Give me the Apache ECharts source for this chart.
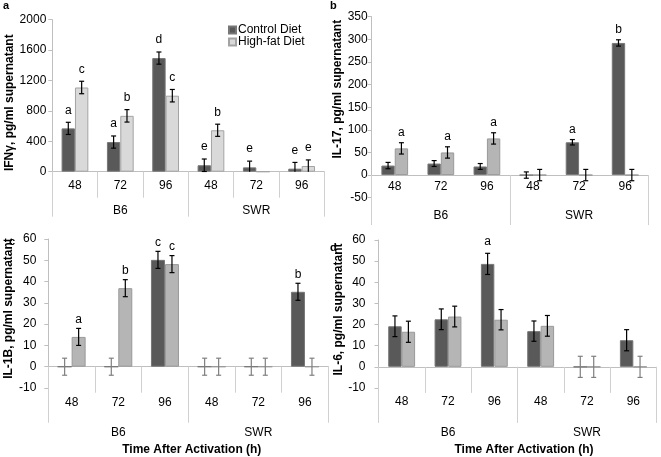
<!DOCTYPE html>
<html><head><meta charset="utf-8">
<script src="https://cdn.jsdelivr.net/npm/echarts@6/dist/echarts.min.js"></script>
<style>html,body{margin:0;padding:0;background:#fff}#c{width:661px;height:457px}</style>
</head><body><div id="c"></div>
<script>
// ---- data ----
const hours = ['48', '72', '96', '48', '72', '96'];
const strains = ['B6', 'SWR'];
const seriesNames = ['Control Diet', 'High-fat Diet'];

const ifnControl = [570, 390, 1495, 85, 57, 40];
const ifnHighFat = [1108, 735, 1000, 545, 0, 75];
const ifnControlErr = [80, 80, 80, 82, 82, 82];
const ifnHighFatErr = [82, 82, 82, 80, null, 80];
const ifnControlSig = ['a', 'a', 'd', 'e', 'e', 'e'];
const ifnHighFatSig = ['c', 'b', 'c', 'b', '', 'e'];

const il17Control = [21, 25.5, 19, 0, 72.5, 292];
const il17HighFat = [59, 50, 81, 0, 0, 0];
const il17ControlErr = [7, 6.5, 6.5, 7, 6, 7];
const il17HighFatErr = [12.5, 12.5, 12.5, 12.5, 12.5, 12.5];
const il17ControlSig = ['', '', '', '', 'a', 'b'];
const il17HighFatSig = ['a', 'a', 'a', '', '', ''];

const il1bControl = [0, 0, 50.2, 0, 0, 35.2];
const il1bHighFat = [14, 36.9, 48.2, 0, 0, 0];
const il1bControlErr = [4, 4, 4, 4, 4, 4];
const il1bHighFatErr = [4, 4, 4, 4, 4, 4];
const il1bControlSig = ['', '', 'c', '', '', 'b'];
const il1bHighFatSig = ['a', 'b', 'c', '', '', ''];

const il6Control = [19.2, 22.5, 48.7, 16.9, 0, 12.6];
const il6HighFat = [16.6, 23.8, 22.3, 19.4, 0, 0];
const il6ControlErr = [4.9, 4.9, 5, 4.8, 5, 5];
const il6HighFatErr = [5, 4.9, 4.8, 4.9, 5, 5];
const il6ControlSig = ['', '', 'a', '', '', ''];
const il6HighFatSig = ['', '', '', '', '', ''];

const yTitles = ['IFNγ, pg/ml supernatant', 'IL-17, pg/ml supernatant', 'IL-1B, pg/ml supernatant', 'IL-6, pg/ml supernatant'];
const xTitle = 'Time After Activation (h)';
const panelKeys = ['a', 'b', 'c', 'd'];

// ---- layout / style ----
const FONT = '"Liberation Sans", Arial, Helvetica, sans-serif';
const panels = [
  {ctrl: ifnControl, hf: ifnHighFat, ctrlErr: ifnControlErr, hfErr: ifnHighFatErr, ctrlSig: ifnControlSig, hfSig: ifnHighFatSig,
   min: 0, max: 2000, interval: 400, grid: [52.3, 19.7, 272, 152], keyPos: [3, 0],
   hfColor: '#d9d9d9', hfBorder: '#a3a3a3', gap: 0.41, catTick: 26, catTickColor: '#d0d0d0', grpTick: 45, catMargin: 8, grpMargin: 33,
   yLabelMargin: 6, nameGap: 35, namePad: [0, 14, 0, 0], zeroColor: '#000', letterGap: 6, xName: '', xNameGap: 0, xNamePad: [0, 0, 0, 0]},
  {ctrl: il17Control, hf: il17HighFat, ctrlErr: il17ControlErr, hfErr: il17HighFatErr, ctrlSig: il17ControlSig, hfSig: il17HighFatSig,
   min: -50, max: 350, interval: 50, grid: [371.7, 16.7, 276.5, 181], keyPos: [330, 0],
   hfColor: '#b5b5b5', hfBorder: '#999999', gap: 0.42, catTick: 0, catTickColor: '#d0d0d0', grpTick: 50, catMargin: 6, grpMargin: 35,
   yLabelMargin: 4, nameGap: 25, namePad: [0, 0, 0, 36], zeroColor: '#000', letterGap: 4, xName: '', xNameGap: 0, xNamePad: [0, 0, 0, 0],
   zeroFromBottom: true},
  {ctrl: il1bControl, hf: il1bHighFat, ctrlErr: il1bControlErr, hfErr: il1bHighFatErr, ctrlSig: il1bControlSig, hfSig: il1bHighFatSig,
   min: -10, max: 60, interval: 10, grid: [48.3, 239, 280, 170.7], keyPos: [9, 236],
   hfColor: '#b5b5b5', hfBorder: '#999999', gap: 0.40, catTick: 26, catTickColor: '#d0d0d0', grpTick: 56, catMargin: 9, grpMargin: 39,
   yLabelMargin: 12, nameGap: 30, namePad: [0, 0, 0, 10], zeroColor: '#7f7f7f', letterGap: 3, xName: xTitle, xNameGap: 56, xNamePad: [0, 0, 0, 7]},
  {ctrl: il6Control, hf: il6HighFat, ctrlErr: il6ControlErr, hfErr: il6HighFatErr, ctrlSig: il6ControlSig, hfSig: il6HighFatSig,
   min: -10, max: 60, interval: 10, grid: [378.5, 240, 278, 170], keyPos: [330, 242],
   hfColor: '#b5b5b5', hfBorder: '#999999', gap: 0.42, catTick: 26, catTickColor: '#d0d0d0', grpTick: 56, catMargin: 8, grpMargin: 39,
   yLabelMargin: 13, nameGap: 29, namePad: [0, 0, 0, 9], zeroColor: '#7f7f7f', letterGap: 6, xName: xTitle, xNameGap: 56, xNamePad: [0, 0, 0, 13]}
];

function errorSeries(k, p, vals, errs, sig, side) {
  const data = vals.map((v, i) => [i, v, errs[i] == null ? NaN : errs[i]]);
  return {
    type: 'custom', xAxisIndex: 2 * k, yAxisIndex: k, z: 10, silent: true,
    data: data, encode: {x: 0, y: 1},
    renderItem: function (params, api) {
      const i = api.value(0), v = api.value(1), e = api.value(2);
      if (e == null || isNaN(e)) return null;
      const band = api.size([1, 0])[0];
      const bw = band * (1 - p.gap) / 2;
      const x = api.coord([i, v])[0] + side * bw / 2;
      const top = api.coord([i, v + e])[1];
      const bottomLimit = api.coord([i, p.min])[1];
      const bot = Math.min(api.coord([i, v - e])[1], bottomLimit);
      const color = v === 0 ? p.zeroColor : '#000';
      const st = {stroke: color, lineWidth: 1.2};
      const children = [
        {type: 'line', shape: {x1: x, y1: top, x2: x, y2: bot}, style: st},
        {type: 'line', shape: {x1: x - 2.5, y1: top, x2: x + 2.5, y2: top}, style: st}
      ];
      if (v - e >= p.min) children.push({type: 'line', shape: {x1: x - 2.5, y1: bot, x2: x + 2.5, y2: bot}, style: st});
      const L = sig[i];
      if (L) children.push({type: 'text', x: x, y: top - p.letterGap,
        style: {text: L, align: 'center', verticalAlign: 'bottom', fill: '#000', fontSize: 12, fontFamily: FONT}});
      return {type: 'group', children: children};
    }
  };
}

const option = {
  animation: false, backgroundColor: '#fff',
  title: [], grid: [], xAxis: [], yAxis: [], series: [],
  legend: {
    data: seriesNames, orient: 'vertical', left: 228, top: 24, padding: 0,
    itemWidth: 7, itemHeight: 7, itemGap: 0, icon: 'rect',
    textStyle: {fontSize: 12, fontFamily: FONT, color: '#000', padding: [0, 0, 0, -3]}
  }
};

panels.forEach((p, k) => {
  const labelStyle = {color: '#000', fontSize: 12, fontFamily: FONT};
  const boldStyle = {color: '#000', fontSize: 12, fontFamily: FONT, fontWeight: 'bold'};
  // distance (px) from the grid bottom (axis min) up to the zero line, for axes placed by offset
  const zeroOffset = p.zeroFromBottom ? -(p.grid[3] * (0 - p.min) / (p.max - p.min)) : 0;
  const onZero = !p.zeroFromBottom;
  option.grid.push({left: p.grid[0], top: p.grid[1], width: p.grid[2], height: p.grid[3]});
  option.title.push({text: panelKeys[k], left: p.keyPos[0], top: p.keyPos[1], padding: 0,
    textStyle: {fontSize: 11, fontWeight: 'bold', fontFamily: FONT, color: '#000'}});
  option.yAxis.push({
    type: 'value', gridIndex: k, min: p.min, max: p.max, interval: p.interval,
    name: yTitles[k], nameLocation: 'middle', nameGap: p.nameGap,
    nameTextStyle: Object.assign({padding: p.namePad}, boldStyle),
    axisLine: {show: true, lineStyle: {color: '#bfbfbf'}},
    axisTick: {show: true, length: 4, lineStyle: {color: '#bfbfbf'}},
    axisLabel: Object.assign({margin: p.yLabelMargin, formatter: (v) => String(v)}, labelStyle),
    splitLine: {show: false}
  });
  option.xAxis.push({
    type: 'category', gridIndex: k, data: hours, position: 'bottom', offset: zeroOffset,
    axisLine: {show: true, onZero: onZero, onZeroAxisIndex: k, lineStyle: {color: '#bfbfbf'}},
    axisTick: {show: p.catTick > 0, length: p.catTick, lineStyle: {color: p.catTickColor}},
    axisLabel: Object.assign({interval: 0, margin: p.catMargin}, labelStyle),
    splitLine: {show: false}
  });
  option.xAxis.push({
    type: 'category', gridIndex: k, data: strains, position: 'bottom', offset: zeroOffset,
    axisLine: {show: false, onZero: onZero, onZeroAxisIndex: k},
    axisTick: {show: true, length: p.grpTick, lineStyle: {color: '#d0d0d0'}},
    axisLabel: Object.assign({interval: 0, margin: p.grpMargin}, labelStyle),
    name: p.xName, nameLocation: 'middle', nameGap: p.xNameGap,
    nameTextStyle: Object.assign({padding: p.xNamePad}, boldStyle),
    splitLine: {show: false}
  });
  const barCommon = {type: 'bar', xAxisIndex: 2 * k, yAxisIndex: k, barGap: '0%',
    barCategoryGap: Math.round(p.gap * 100) + '%', silent: true};
  option.series.push(Object.assign({name: seriesNames[0], data: p.ctrl,
    itemStyle: {color: '#595959', borderColor: '#777777', borderWidth: 1}}, barCommon));
  option.series.push(Object.assign({name: seriesNames[1], data: p.hf,
    itemStyle: {color: p.hfColor, borderColor: p.hfBorder, borderWidth: 1}}, barCommon));
  option.series.push(errorSeries(k, p, p.ctrl, p.ctrlErr, p.ctrlSig, -1));
  option.series.push(errorSeries(k, p, p.hf, p.hfErr, p.hfSig, 1));
});

const chart = echarts.init(document.getElementById('c'), null, {renderer: 'canvas'});
chart.setOption(option);
</script>
</body></html>
